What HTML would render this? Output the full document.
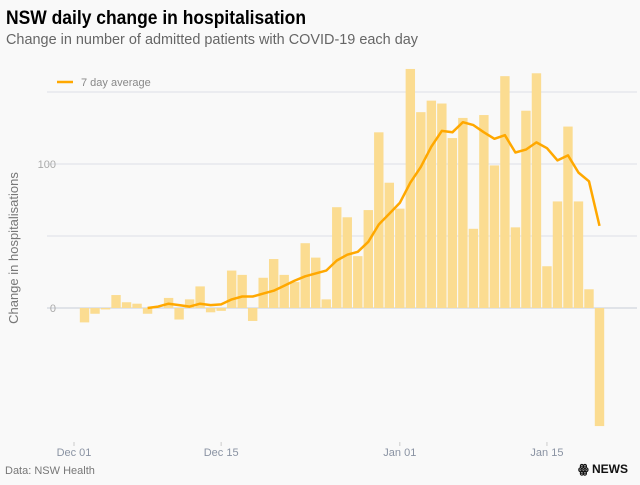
<!DOCTYPE html>
<html><head><meta charset="utf-8"><style>
body{margin:0;background:#f9f9f9;width:640px;height:480px;overflow:hidden;font-family:"Liberation Sans",sans-serif}
</style></head><body>
<svg width="640" height="480" xmlns="http://www.w3.org/2000/svg">
<rect width="640" height="480" fill="#f9f9f9"/>
<text x="6" y="24" font-size="19" font-weight="bold" fill="#000" textLength="300" lengthAdjust="spacingAndGlyphs">NSW daily change in hospitalisation</text>
<text x="6" y="44" font-size="14.5" fill="#666" textLength="412" lengthAdjust="spacingAndGlyphs">Change in number of admitted patients with COVID-19 each day</text>
<g id="grid"></g>
<g id="bars"></g>
<path id="avg" fill="none" stroke="#ffa800" stroke-width="2.5" stroke-linejoin="round"/>
<g id="xticks"></g>
<line x1="57" y1="82" x2="73" y2="82" stroke="#ffa800" stroke-width="2.5"/>
<text x="81" y="86" font-size="11" fill="#888">7 day average</text>
<text x="18" y="248" font-size="13" fill="#777" text-anchor="middle" transform="rotate(-90 18 248)">Change in hospitalisations</text>
<text x="5" y="474" font-size="11" fill="#777">Data: NSW Health</text>
<text x="628" y="473" font-size="12" font-weight="bold" fill="#111" text-anchor="end">ꙮ NEWS</text>
</svg>
<script>
const yTicks=[0,50,100,150];
const yLabels=["0","","100",""];
const xTickDays=[0,14,31,45];
const xTickLabels=["Dec 01","Dec 15","Jan 01","Jan 15"];
const changes=[-10,-4,-1,9,4,3,-4,0,7,-8,6,15,-3,-2,26,23,-9,21,34,23,18,45,35,6,70,63,36,68,122,87,69,166,136,144,142,118,132,55,134,99,161,56,137,163,29,74,126,74,13,-82];
const average=[null,null,null,null,null,null,0,1,3,2,1,3,2,2.5,6,8,8,10,12,15.5,19,22,24,26,33,37,39,46,58,65.5,73,87,98,112,123,122,129,127,122,117.5,120,108,110,115,111,102.5,106,94,88,57];
const ns="http://www.w3.org/2000/svg";
const y=v=>308-v*1.44;
const xDay=d=>74+d*10.51;
const xBar=i=>xDay(i+1);
const g=document.getElementById('grid');
yTicks.forEach((t,k)=>{
 const l=document.createElementNS(ns,'line');
 l.setAttribute('x1',47);l.setAttribute('x2',637);l.setAttribute('y1',y(t));l.setAttribute('y2',y(t));
 l.setAttribute('stroke',t===0?'#c8cdd6':'#dde0e6');l.setAttribute('stroke-width',1);
 
 
 g.appendChild(l);
 if(yLabels[k]){const tx=document.createElementNS(ns,'text');
 tx.setAttribute('x',56);tx.setAttribute('y',y(t)+4);tx.setAttribute('text-anchor','end');
 tx.setAttribute('font-size',11);tx.setAttribute('fill','#aaa');tx.textContent=yLabels[k];
 
 
 g.appendChild(tx);}
});
const b=document.getElementById('bars');
changes.forEach((v,i)=>{
 const r=document.createElementNS(ns,'rect');
 const cx=xBar(i);
 r.setAttribute('x',cx-4.7);r.setAttribute('width',9.4);
 r.setAttribute('y',Math.min(y(v),y(0)));r.setAttribute('height',Math.abs(y(v)-y(0)));
 r.setAttribute('fill','#fbdc91');
 
 
 b.appendChild(r);
});
let d='';
average.forEach((v,i)=>{if(v===null)return;d+=(d?'L':'M')+xBar(i).toFixed(1)+' '+y(v).toFixed(1)+' ';});
document.getElementById('avg').setAttribute('d',d);
const xt=document.getElementById('xticks');
xTickDays.forEach((dd,k)=>{
 const x=xDay(dd);
 const l=document.createElementNS(ns,'line');
 l.setAttribute('x1',x);l.setAttribute('x2',x);l.setAttribute('y1',442);l.setAttribute('y2',446);
 l.setAttribute('stroke','#ccc');
 
 
 xt.appendChild(l);
 const t=document.createElementNS(ns,'text');
 t.setAttribute('x',x);t.setAttribute('y',456);t.setAttribute('text-anchor','middle');
 t.setAttribute('font-size',11);t.setAttribute('fill','#8a93a3');t.textContent=xTickLabels[k];
 
 
 xt.appendChild(t);
});
</script>
</body></html>
